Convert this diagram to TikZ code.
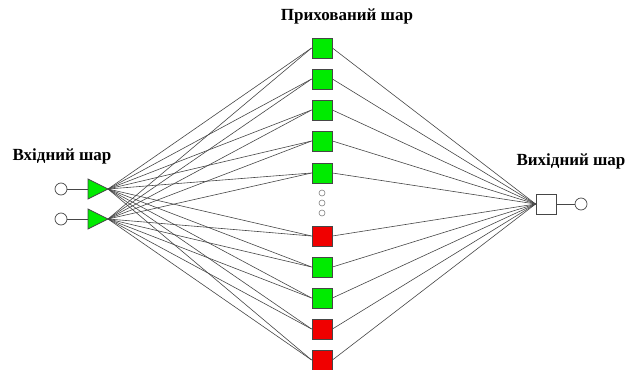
\documentclass[tikz,border=0pt]{standalone}
\usepackage{fontspec}
\setmainfont{Liberation Serif}
\definecolor{nodegreen}{RGB}{0,235,0}
\definecolor{nodered}{RGB}{240,0,0}
\definecolor{edgegray}{RGB}{70,70,70}
\definecolor{bordergray}{RGB}{70,70,70}
\tikzset{
  hid/.style={draw=bordergray, line width=0.8pt, minimum size=20pt, inner sep=0pt},
  hidg/.style={hid, fill=nodegreen},
  hidr/.style={hid, fill=nodered},
  inp/.style={draw=bordergray, line width=0.8pt, fill=nodegreen, line join=miter},
  term/.style={circle, draw=bordergray, line width=0.7pt, fill=white, minimum size=12pt, inner sep=0pt},
  outsq/.style={draw=bordergray, line width=0.8pt, fill=white, minimum size=20pt, inner sep=0pt},
  dotc/.style={circle, draw=gray, line width=0.6pt, minimum size=6pt, inner sep=0pt},
  edge/.style={draw=edgegray, line width=0.6pt},
  lbl/.style={font=\bfseries\fontsize{17}{19}\selectfont, inner sep=0pt}
}
\begin{document}
\begin{tikzpicture}[x=1pt,y=-1pt]
\useasboundingbox (0,0) rectangle (628,369);
% labels
\node[lbl] (tHid) at (347,16) {Прихований шар};
\node[lbl] (tIn) at (62,156) {Вхідний шар};
\node[lbl] (tOut) at (571,161) {Вихідний шар};
% input
\node[term] (c1) at (61,189) {};
\node[term] (c2) at (61,219) {};
\coordinate (i1b) at (88,189);
\coordinate (i1) at (108,189);
\coordinate (i2b) at (88,219);
\coordinate (i2) at (108,219);
% hidden
\node[hidg] (h1) at (322,48) {};
\node[hidg] (h2) at (322,79) {};
\node[hidg] (h3) at (322,110) {};
\node[hidg] (h4) at (322,141) {};
\node[hidg] (h5) at (322,173) {};
\node[hidr] (h6) at (322,236) {};
\node[hidg] (h7) at (322,267) {};
\node[hidg] (h8) at (322,298) {};
\node[hidr] (h9) at (322,329) {};
\node[hidr] (h10) at (322,360) {};
\node[dotc] (d1) at (322,193) {};
\node[dotc] (d2) at (322,203) {};
\node[dotc] (d3) at (322,213) {};
% output
\node[outsq] (o) at (546,204) {};
\node[term] (oc) at (581,204) {};
% edges
\draw[edge] (c1) -- (i1b);
\draw[edge] (c2) -- (i2b);
\draw[edge] (o) -- (oc);
\foreach \h in {h1,h2,h3,h4,h5,h6,h7,h8,h9,h10} {
  \draw[edge] (i1) -- (\h.west);
  \draw[edge] (i2) -- (\h.west);
  \draw[edge] (\h.east) -- (o.west);
}
% input triangles
\draw[inp] (88,179) -- (i1) -- (88,199) -- cycle;
\draw[inp] (88,209) -- (i2) -- (88,229) -- cycle;
\end{tikzpicture}
\end{document}
